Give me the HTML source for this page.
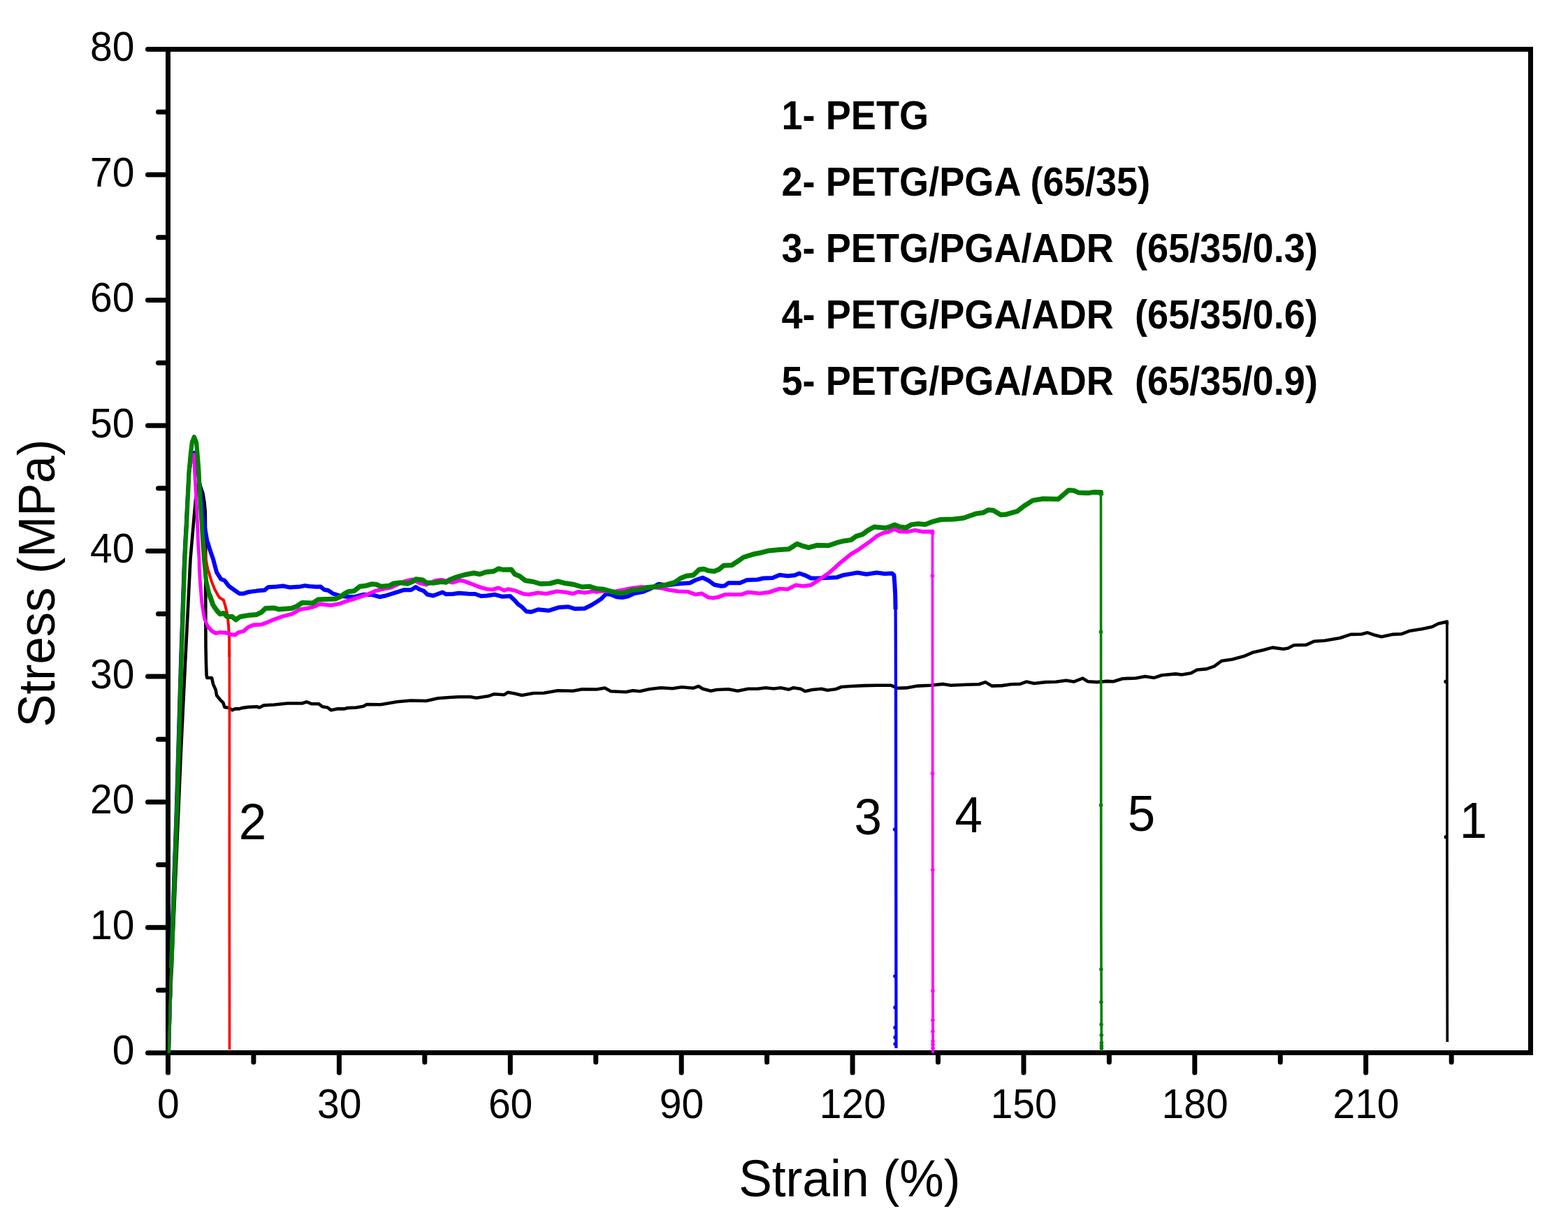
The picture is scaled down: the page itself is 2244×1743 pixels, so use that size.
<!DOCTYPE html>
<html lang="en">
<head>
<meta charset="utf-8">
<title>Stress-strain curves</title>
<style>
html,body{margin:0;padding:0;background:#fff;}
body{width:2244px;height:1743px;overflow:hidden;}
svg{display:block;}
text{font-family:"Liberation Sans",sans-serif;fill:#000;}
.tick{font-size:57px;}
.title{font-size:71.4px;}
.num{font-size:71px;}
.leg{font-size:54px;font-weight:bold;}
.ax{stroke:#000;stroke-width:7;fill:none;}
.tk{stroke:#000;stroke-width:7;stroke-linecap:round;fill:none;}
.c{fill:none;stroke-linejoin:round;stroke-linecap:butt;}
</style>
</head>
<body>
<svg width="2244" height="1743" viewBox="0 0 2244 1743">
<rect x="0" y="0" width="2244" height="1743" fill="#ffffff"/>

<g shape-rendering="crispEdges">
<rect class="ax" x="240.5" y="70.5" width="1949.8" height="1436.2"/>
</g>
<g>
<line class="tk" x1="211.5" y1="1506.7" x2="238" y2="1506.7"/>
<line class="tk" x1="226.5" y1="1416.9" x2="238" y2="1416.9"/>
<line class="tk" x1="211.5" y1="1327.2" x2="238" y2="1327.2"/>
<line class="tk" x1="226.5" y1="1237.4" x2="238" y2="1237.4"/>
<line class="tk" x1="211.5" y1="1147.7" x2="238" y2="1147.7"/>
<line class="tk" x1="226.5" y1="1057.9" x2="238" y2="1057.9"/>
<line class="tk" x1="211.5" y1="968.1" x2="238" y2="968.1"/>
<line class="tk" x1="226.5" y1="878.4" x2="238" y2="878.4"/>
<line class="tk" x1="211.5" y1="788.6" x2="238" y2="788.6"/>
<line class="tk" x1="226.5" y1="698.8" x2="238" y2="698.8"/>
<line class="tk" x1="211.5" y1="609.1" x2="238" y2="609.1"/>
<line class="tk" x1="226.5" y1="519.3" x2="238" y2="519.3"/>
<line class="tk" x1="211.5" y1="429.5" x2="238" y2="429.5"/>
<line class="tk" x1="226.5" y1="339.8" x2="238" y2="339.8"/>
<line class="tk" x1="211.5" y1="250.0" x2="238" y2="250.0"/>
<line class="tk" x1="226.5" y1="160.3" x2="238" y2="160.3"/>
<line class="tk" x1="211.5" y1="70.5" x2="238" y2="70.5"/>
<line class="tk" x1="240.5" y1="1509" x2="240.5" y2="1535"/>
<line class="tk" x1="362.9" y1="1509" x2="362.9" y2="1520"/>
<line class="tk" x1="485.4" y1="1509" x2="485.4" y2="1535"/>
<line class="tk" x1="607.8" y1="1509" x2="607.8" y2="1520"/>
<line class="tk" x1="730.3" y1="1509" x2="730.3" y2="1535"/>
<line class="tk" x1="852.7" y1="1509" x2="852.7" y2="1520"/>
<line class="tk" x1="975.2" y1="1509" x2="975.2" y2="1535"/>
<line class="tk" x1="1097.6" y1="1509" x2="1097.6" y2="1520"/>
<line class="tk" x1="1220.1" y1="1509" x2="1220.1" y2="1535"/>
<line class="tk" x1="1342.5" y1="1509" x2="1342.5" y2="1520"/>
<line class="tk" x1="1465.0" y1="1509" x2="1465.0" y2="1535"/>
<line class="tk" x1="1587.4" y1="1509" x2="1587.4" y2="1520"/>
<line class="tk" x1="1709.8" y1="1509" x2="1709.8" y2="1535"/>
<line class="tk" x1="1832.3" y1="1509" x2="1832.3" y2="1520"/>
<line class="tk" x1="1954.7" y1="1509" x2="1954.7" y2="1535"/>
<line class="tk" x1="2077.2" y1="1509" x2="2077.2" y2="1520"/>
</g>
<g>
<polyline class="c" stroke="#000000" stroke-width="3.7" points="2070.9,888.0 2070.9,1100.0 2071.0,1300.0 2071.3,1491.0"/>
<polyline class="c" stroke="#000000" stroke-width="4.6" points="240.5,1506.7 259.0,1075.0 265.0,950.0 272.5,800.0 279.8,716.0 285.0,690.0 290.5,706.3 292.5,718.8 293.8,732.5 294.2,775.0 294.3,875.0 294.5,925.0 295.0,950.0 295.6,966.3 296.3,970.0 303.1,970.0 305.0,978.8 308.8,987.5 310.0,995.0 315.0,1001.3 319.4,1005.6 321.3,1011.9 327.5,1013.1 332.5,1016.3 336.3,1014.4 342.5,1014.4 346.3,1013.1 355.0,1011.9 367.5,1011.3 371.3,1012.5 377.5,1009.4 392.5,1008.5 411.3,1006.5 432.5,1006.5 438.8,1004.4 446.3,1007.3 456.3,1007.3 461.3,1011.3 468.8,1012.5 473.8,1016.3 482.5,1014.4 492.5,1014.4 497.5,1013.1 510.0,1012.5 520.0,1010.8 525.0,1008.0 545.0,1008.3 568.3,1004.2 588.3,1002.5 610.0,1003.0 626.7,999.2 643.3,998.0 656.7,997.2 673.3,997.2 681.7,998.7 698.3,996.3 706.7,993.3 721.7,994.2 726.7,990.8 736.7,992.5 746.7,995.0 763.3,992.0 778.3,991.7 798.3,988.3 820.0,988.7 833.3,986.3 854.0,986.5 865.7,984.5 874.0,989.2 895.7,990.3 905.7,988.3 915.7,989.2 929.0,986.3 945.7,984.2 962.3,985.3 975.7,983.3 992.3,984.7 999.8,982.0 1005.7,985.8 1017.3,988.7 1025.7,987.0 1042.3,986.2 1055.7,988.7 1070.7,985.8 1084.0,985.8 1095.7,984.2 1107.3,985.5 1117.3,984.2 1129.0,986.7 1135.7,984.2 1145.7,985.8 1152.3,989.2 1162.3,987.0 1175.7,985.8 1184.0,987.8 1195.7,986.3 1204.0,983.0 1218.0,982.0 1236.3,981.1 1254.6,980.7 1274.8,980.7 1284.0,984.7 1296.8,984.4 1313.2,981.6 1331.6,980.7 1349.9,978.9 1360.9,980.7 1382.8,979.8 1401.1,979.2 1410.3,976.1 1419.5,981.6 1434.1,981.1 1446.9,979.2 1459.8,978.9 1468.9,975.6 1479.9,978.0 1496.4,976.1 1511.0,975.8 1525.7,973.8 1536.7,975.6 1549.5,970.6 1556.8,975.2 1569.6,976.1 1584.3,974.9 1593.5,975.2 1606.3,971.2 1614.0,970.9 1625.4,970.5 1638.6,967.9 1651.8,969.9 1662.7,966.2 1682.5,964.4 1691.3,965.5 1704.5,963.3 1713.3,958.5 1726.5,957.4 1737.5,953.6 1748.5,945.7 1763.8,943.5 1781.4,938.7 1792.4,933.8 1807.8,930.3 1821.0,926.6 1836.4,928.8 1843.0,927.7 1851.8,923.3 1869.3,922.9 1880.3,917.8 1895.7,916.7 1917.7,913.0 1933.1,907.9 1948.5,907.5 1957.3,905.3 1966.0,908.4 1977.0,911.2 1992.4,907.9 2005.6,907.3 2016.6,903.1 2034.2,900.2 2049.6,897.0 2058.4,892.5 2068.2,890.3 2070.8,889.5 2070.9,894.0"/>
<polyline class="c" stroke="#ff0000" stroke-width="3.6" points="328.3,930.0 328.4,1012.0 328.3,1300.0 328.5,1502.0"/>
<polyline class="c" stroke="#ff0000" stroke-width="4.0" points="241.9,1507.0 245.2,1385.0 245.5,1345.0"/>
<polyline class="c" stroke="#ff0000" stroke-width="3.2" points="243.9,1385.0 251.8,1162.0 258.1,950.0 262.6,812.0 264.4,775.0 265.9,750.0 267.0,725.0 268.3,700.0 269.5,675.0 271.8,650.0 274.3,631.0 277.5,627.0 281.5,634.0 283.2,650.0 285.2,675.0 286.5,700.0 288.2,725.0 290.2,750.0 292.3,775.0 295.0,800.0 298.1,816.3 302.5,831.3"/>
<polyline class="c" stroke="#ff0000" stroke-width="4.0" points="298.1,816.3 302.5,831.3 307.5,843.8 313.8,855.0 320.0,858.8 322.5,867.5 325.6,880.0 326.9,893.8 328.1,912.5 328.3,940.0"/>
<polyline class="c" stroke="#0000ff" stroke-width="4.3" points="1281.6,865.0 1281.8,914.8 1282.0,1005.0 1282.3,1300.0 1282.5,1500.0"/>
<polyline class="c" stroke="#0000ff" stroke-width="4.2" points="241.9,1507.0 245.2,1385.0 245.5,1345.0"/>
<polyline class="c" stroke="#0000ff" stroke-width="5.2" points="244.3,1385.0 252.2,1162.0 258.5,950.0 263.2,812.0 264.9,775.0 266.4,750.0 267.6,725.0 269.0,700.0 270.6,675.0 273.5,658.0 277.9,647.6 283.0,675.0 287.0,700.0 289.5,725.0 292.6,750.0 296.9,775.0 300.5,787.0"/>
<polyline class="c" stroke="#0000ff" stroke-width="6.0" points="296.9,775.0 300.5,787.0 305.0,800.0 310.0,818.8 316.3,828.8 321.3,830.6 327.5,838.8 336.3,845.0 342.5,849.4 348.8,849.4 355.0,847.3 367.5,845.6 378.8,844.4 383.8,840.3 396.3,839.4 405.0,838.5 415.0,840.6 430.0,839.4 436.3,838.1 442.5,839.0 452.5,839.8 458.8,839.4 463.8,843.8 470.0,845.0 476.3,849.4 486.3,852.5 495.0,853.8 506.7,854.2 520.0,850.8 533.3,851.3 543.3,854.2 551.7,852.5 565.0,848.3 578.3,844.2 588.3,844.2 595.0,840.0 600.0,843.3 606.7,845.8 611.7,850.8 620.0,852.5 633.3,847.5 638.3,850.3 648.3,850.0 656.7,848.7 670.0,849.7 680.0,850.0 688.3,853.0 696.7,852.5 708.3,850.8 718.3,853.7 730.0,853.0 736.7,859.2 741.7,865.0 746.7,868.3 753.3,875.0 760.0,875.8 770.0,872.2 785.0,873.8 800.0,869.2 813.3,868.3 823.3,871.3 836.7,870.8 846.7,865.8 854.0,861.2 860.7,856.7 867.3,850.0 874.0,850.8 882.3,854.2 890.7,855.0 899.0,853.3 907.3,849.2 920.7,846.7 932.3,841.7 942.3,835.8 954.0,837.5 967.3,835.8 979.0,834.7 987.3,834.2 995.7,830.0 1005.7,826.7 1014.0,830.8 1022.3,836.7 1032.3,838.8 1037.3,838.3 1042.3,834.2 1059.0,834.2 1069.0,830.0 1084.0,829.5 1092.3,827.5 1105.7,827.0 1115.7,822.8 1127.3,824.2 1137.3,823.3 1144.0,820.5 1152.3,823.3 1160.7,827.5 1170.7,827.5 1187.3,826.7 1197.3,826.3 1205.7,823.3 1218.0,821.1 1227.2,819.5 1240.0,821.7 1254.6,819.5 1265.6,821.0 1276.6,820.5 1279.4,823.2 1280.3,834.2 1281.2,850.7 1281.6,872.0"/>
<polyline class="c" stroke="#ff00ff" stroke-width="3.7" points="1334.5,760.0 1334.5,900.0 1334.8,1300.0 1335.1,1507.0"/>
<polyline class="c" stroke="#ff00ff" stroke-width="4.2" points="241.9,1507.0 245.2,1385.0 245.5,1345.0"/>
<polyline class="c" stroke="#ff00ff" stroke-width="4.8" points="244.7,1385.0 252.6,1162.0 258.9,950.0 263.8,812.0 265.4,775.0 266.9,750.0 268.0,725.0 269.4,700.0 270.8,675.0 273.5,660.0 277.9,650.5 278.6,675.0 280.0,700.0 281.5,725.0 282.5,750.0 283.5,775.0 285.0,800.0 285.2,812.0 286.3,831.3 288.8,862.5 292.5,885.0 297.5,896.3 302.5,902.5"/>
<polyline class="c" stroke="#ff00ff" stroke-width="5.6" points="297.5,896.3 302.5,902.5 308.8,906.3 315.0,905.0 323.8,905.6 330.0,907.8 336.3,908.8 341.3,905.0 348.8,903.1 355.0,897.5 362.5,894.4 373.8,893.8 382.5,890.6 392.5,886.3 405.0,881.9 417.5,878.8 430.0,871.9 442.5,870.0 450.0,868.1 457.5,864.4 467.5,865.6 473.8,866.3 486.3,863.8 495.0,860.6 506.7,857.0 523.3,851.7 536.7,845.8 548.3,843.0 560.0,840.8 570.0,835.8 580.0,831.7 590.0,829.2 600.0,834.2 610.0,836.7 623.3,830.8 631.7,829.7 640.0,831.7 648.3,833.7 656.7,830.8 663.3,831.3 673.3,835.0 685.0,839.7 696.7,843.0 705.0,843.7 713.3,841.3 721.7,845.0 726.7,843.0 736.7,845.0 748.3,849.7 756.7,850.8 770.0,848.3 781.7,849.7 796.7,846.3 810.0,847.5 820.0,849.7 828.3,846.7 836.7,848.3 848.3,846.3 854.0,847.1 862.3,845.8 880.0,846.5 904.0,841.7 917.3,840.0 937.3,840.8 947.3,841.7 957.3,844.2 970.7,846.2 984.0,846.7 995.7,850.8 1004.0,849.2 1014.0,855.0 1020.7,855.8 1029.0,854.2 1037.3,850.8 1050.7,850.8 1060.7,850.8 1070.7,847.5 1087.3,849.2 1100.7,847.5 1115.7,842.5 1127.3,843.3 1139.0,837.2 1149.0,838.7 1160.7,837.2 1170.7,830.8 1179.0,825.0 1187.3,819.2 1195.7,811.7 1204.0,804.2 1212.3,797.5 1218.0,792.8 1227.2,787.5 1236.3,781.1 1245.5,774.7 1254.6,767.3 1263.8,762.8 1271.1,761.3 1280.3,757.3 1287.6,760.6 1298.6,760.9 1309.6,758.7 1320.6,760.9 1334.6,760.6 1334.6,765.0"/>
<polyline class="c" stroke="#008000" stroke-width="3.6" points="1575.5,704.0 1575.6,900.0 1575.8,1300.0 1576.4,1504.0"/>
<polyline class="c" stroke="#008000" stroke-width="4.2" points="241.9,1507.0 245.2,1385.0 245.5,1345.0"/>
<polyline class="c" stroke="#008000" stroke-width="6.2" points="245.2,1385.0 253.1,1162.0 259.4,950.0 264.0,812.0 265.6,775.0 267.1,750.0 268.1,725.0 269.4,700.0 270.5,675.0 272.8,650.0 274.8,633.0 277.9,625.2 281.0,633.0 282.6,650.0 284.5,675.0 285.6,700.0 287.1,725.0 288.8,750.0 290.2,775.0 292.0,800.0 295.0,831.0 299.4,850.0 305.0,866.0"/>
<polyline class="c" stroke="#008000" stroke-width="7.0" points="299.4,850.0 305.0,866.0 311.3,875.0 315.0,878.8 320.0,877.5 325.0,882.5 332.5,882.5 337.5,886.9 343.8,882.5 355.0,880.6 367.5,879.4 373.8,876.3 380.0,870.6 392.5,870.0 398.8,871.9 417.5,870.6 425.0,867.5 432.5,862.5 447.5,863.1 455.0,858.1 467.5,857.5 480.0,856.9 487.5,853.8 493.0,849.5 498.3,846.7 506.7,845.8 515.0,839.2 523.3,838.3 531.7,835.8 538.3,836.3 545.0,839.2 556.7,838.3 563.3,835.0 573.3,833.7 583.3,835.3 590.0,832.5 595.0,828.7 605.0,830.0 610.0,833.7 620.0,834.2 631.7,832.5 638.3,833.3 643.3,829.7 653.3,825.8 665.0,822.5 678.3,820.0 686.7,821.7 695.0,818.7 706.7,817.5 713.3,813.7 720.0,815.3 731.7,815.0 736.7,821.7 743.3,824.2 751.7,830.8 763.3,832.5 773.3,835.5 786.7,835.0 798.3,832.0 806.7,834.2 820.0,836.2 833.3,840.0 843.3,839.2 854.0,842.6 864.0,843.3 875.7,846.7 887.3,849.2 895.7,847.5 904.0,844.7 917.3,843.3 925.7,840.8 940.7,839.2 954.0,836.7 965.7,833.3 974.0,827.5 982.3,824.2 992.3,823.0 1000.7,815.0 1007.3,814.2 1014.0,816.7 1022.3,817.5 1029.0,814.7 1035.7,809.2 1047.3,808.7 1055.7,803.3 1064.0,797.5 1077.3,793.3 1087.3,791.3 1099.0,788.3 1114.0,786.7 1129.0,785.8 1140.7,778.3 1147.3,780.8 1157.3,783.7 1169.0,780.3 1185.7,780.8 1197.3,776.7 1207.3,774.2 1218.0,772.6 1225.3,767.3 1234.5,764.6 1241.8,759.1 1251.0,754.0 1267.5,755.4 1273.0,754.0 1280.3,750.9 1287.6,754.0 1296.8,755.1 1304.1,750.9 1313.2,749.6 1324.2,750.5 1335.2,746.3 1346.2,743.5 1364.5,743.0 1379.2,741.2 1388.3,738.0 1397.5,734.9 1406.6,733.8 1414.0,729.8 1421.3,730.2 1432.3,736.8 1439.6,736.2 1456.1,731.6 1465.3,724.3 1478.1,716.1 1492.7,713.7 1514.7,714.2 1529.4,701.4 1536.7,702.0 1544.0,705.1 1556.8,705.6 1566.0,704.2 1575.6,704.5 1575.7,709.0"/>
<circle cx="1334.5" cy="824.1" r="2.8" fill="#ff00ff"/>
<circle cx="1334.6" cy="1106.9" r="2.8" fill="#ff00ff"/>
<circle cx="1334.8" cy="1244.7" r="2.8" fill="#ff00ff"/>
<circle cx="1335" cy="1417.9" r="2.8" fill="#ff00ff"/>
<circle cx="1335" cy="1460" r="2.8" fill="#ff00ff"/>
<circle cx="1335" cy="1476" r="2.8" fill="#ff00ff"/>
<circle cx="1335.1" cy="1490" r="2.8" fill="#ff00ff"/>
<circle cx="1335.1" cy="1494.8" r="2.8" fill="#ff00ff"/>
<circle cx="1335.1" cy="1500" r="2.8" fill="#ff00ff"/>
<circle cx="1575.5" cy="904.3" r="2.8" fill="#008000"/>
<circle cx="1575.6" cy="1152.2" r="2.8" fill="#008000"/>
<circle cx="1575.9" cy="1387" r="2.8" fill="#008000"/>
<circle cx="1576" cy="1434" r="2.8" fill="#008000"/>
<circle cx="1576.1" cy="1466.1" r="2.8" fill="#008000"/>
<circle cx="1576.3" cy="1481.3" r="2.8" fill="#008000"/>
<circle cx="1576.4" cy="1492.2" r="2.8" fill="#008000"/>
<circle cx="1576.4" cy="1496.6" r="2.8" fill="#008000"/>
<circle cx="1576.4" cy="1500" r="2.8" fill="#008000"/>
<circle cx="1280.6" cy="1187" r="2.8" fill="#0000ff"/>
<circle cx="1280.9" cy="1397" r="2.8" fill="#0000ff"/>
<circle cx="1281" cy="1441.8" r="2.8" fill="#0000ff"/>
<circle cx="1281.1" cy="1470.5" r="2.8" fill="#0000ff"/>
<circle cx="1281.2" cy="1484.4" r="2.8" fill="#0000ff"/>
<circle cx="1281.2" cy="1494" r="2.8" fill="#0000ff"/>
<circle cx="2069.4" cy="1197.8" r="2.8" fill="#000000"/>
<circle cx="2069.2" cy="975.4" r="2.8" fill="#000000"/>
</g>
<g class="tick">
<text transform="translate(192.5 1523.2) scale(1 1.03)" text-anchor="end">0</text>
<text transform="translate(192.5 1343.7) scale(1 1.03)" text-anchor="end">10</text>
<text transform="translate(192.5 1164.2) scale(1 1.03)" text-anchor="end">20</text>
<text transform="translate(192.5 984.6) scale(1 1.03)" text-anchor="end">30</text>
<text transform="translate(192.5 805.1) scale(1 1.03)" text-anchor="end">40</text>
<text transform="translate(192.5 625.6) scale(1 1.03)" text-anchor="end">50</text>
<text transform="translate(192.5 446.0) scale(1 1.03)" text-anchor="end">60</text>
<text transform="translate(192.5 266.5) scale(1 1.03)" text-anchor="end">70</text>
<text transform="translate(192.5 87.0) scale(1 1.03)" text-anchor="end">80</text>
<text transform="translate(240.8 1599.7) scale(1 1.03)" text-anchor="middle">0</text>
<text transform="translate(485.7 1599.7) scale(1 1.03)" text-anchor="middle">30</text>
<text transform="translate(730.6 1599.7) scale(1 1.03)" text-anchor="middle">60</text>
<text transform="translate(975.5 1599.7) scale(1 1.03)" text-anchor="middle">90</text>
<text transform="translate(1220.4 1599.7) scale(1 1.03)" text-anchor="middle">120</text>
<text transform="translate(1465.2 1599.7) scale(1 1.03)" text-anchor="middle">150</text>
<text transform="translate(1710.1 1599.7) scale(1 1.03)" text-anchor="middle">180</text>
<text transform="translate(1955.0 1599.7) scale(1 1.03)" text-anchor="middle">210</text>
</g>
<text class="title" transform="translate(1215.8 1712.3) scale(1 1.04)" text-anchor="middle">Strain (%)</text>
<text class="title" style="font-size:70.6px" transform="translate(78 834.7) rotate(-90) scale(1 1.05)" text-anchor="middle">Stress (MPa)</text>
<g class="leg">
<text transform="translate(1118.5 184.7) scale(1.003 1.05)" xml:space="preserve">1- PETG</text>
<text transform="translate(1118.5 279.7) scale(1.003 1.05)" xml:space="preserve">2- PETG/PGA (65/35)</text>
<text transform="translate(1118.5 375) scale(1.003 1.05)" xml:space="preserve">3- PETG/PGA/ADR  (65/35/0.3)</text>
<text transform="translate(1118.5 470) scale(1.003 1.05)" xml:space="preserve">4- PETG/PGA/ADR  (65/35/0.6)</text>
<text transform="translate(1118.5 564.5) scale(1.003 1.05)" xml:space="preserve">5- PETG/PGA/ADR  (65/35/0.9)</text>
</g>
<g class="num">
<text transform="translate(361.6 1201) scale(1 1.03)" text-anchor="middle">2</text>
<text transform="translate(1242.3 1194) scale(1 1.03)" text-anchor="middle">3</text>
<text transform="translate(1386.2 1190.9) scale(1 1.03)" text-anchor="middle">4</text>
<text transform="translate(1633.6 1189.3) scale(1 1.03)" text-anchor="middle">5</text>
<text transform="translate(2108.5 1198.9) scale(1 1.03)" text-anchor="middle">1</text>
</g>
</svg>
</body>
</html>
